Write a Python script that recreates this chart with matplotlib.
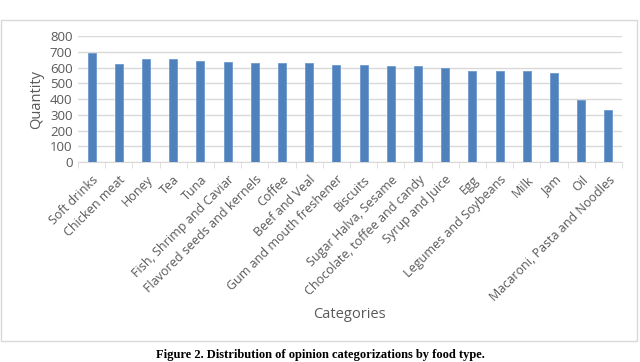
import matplotlib.pyplot as plt
import matplotlib.patches as mpatches
import numpy as np

categories = ['Soft drinks', 'Chicken meat', 'Honey', 'Tea', 'Tuna',
              'Fish, Shrimp and Caviar', 'Flavored seeds and kernels', 'Coffee',
              'Beef and Veal', 'Gum and mouth freshener', 'Biscuits',
              'Sugar Halva, Sesame', 'Chocolate, toffee and candy', 'Syrup and Juice',
              'Egg', 'Legumes and Soybeans', 'Milk', 'Jam', 'Oil',
              'Macaroni, Pasta and Noodles']
quantity = [690, 620, 655, 655, 640, 635, 630, 630, 630, 615, 615, 610, 610,
            600, 580, 580, 575, 565, 395, 330]
yticks = [0, 100, 200, 300, 400, 500, 600, 700, 800]

grey = '#595959'
plt.rcParams['font.family'] = ['Open Sans', 'DejaVu Sans']

fig = plt.figure(figsize=(6.4, 3.62), dpi=100)
# outer chart frame
fig.patches.append(mpatches.Rectangle((1/640, 1-341/362), 636/640, 321/362,
                                      transform=fig.transFigure, fill=False,
                                      edgecolor='#d9d9d9', linewidth=1))

ax = fig.add_axes([78/640, 1-162/362, 544/640, 126/362])
x = np.arange(len(categories))
ax.bar(x, quantity, width=0.3, color='#4f81bd', edgecolor='#6f9ad0',
       linewidth=0.6, zorder=3)
ax.set_xlim(-0.5, len(categories)-0.5)
ax.set_ylim(0, 800)
ax.set_yticks(yticks)
ax.set_yticklabels([str(v) for v in yticks], fontsize=9.5, color=grey)
ax.yaxis.grid(True, color='#d9d9d9', linewidth=1, zorder=0)
ax.tick_params(axis='y', length=0, pad=4)

ax.set_xticks(x)
ax.set_xticklabels(categories, rotation=45, ha='right', rotation_mode='anchor',
                   fontsize=9, color=grey)
ax.set_xticks(np.arange(len(categories)+1)-0.5, minor=True)
ax.tick_params(axis='x', which='major', length=0, pad=8)
ax.tick_params(axis='x', which='minor', length=4, color='#d9d9d9', direction='out')

for s in ['top', 'right', 'left']:
    ax.spines[s].set_visible(False)
ax.spines['bottom'].set_color('#d9d9d9')

ax.set_ylabel('Quantity', fontsize=10.5, color=grey, labelpad=4)
fig.text(349/640, 1-315/362, 'Categories', fontsize=10.5, color=grey,
         ha='center', va='center')
fig.text(0.5, 1-355/362, 'Figure 2. Distribution of opinion categorizations by food type.',
         fontsize=9, fontweight='bold', family='Liberation Serif',
         ha='center', va='center')

fig.savefig('out.png', dpi=100)
